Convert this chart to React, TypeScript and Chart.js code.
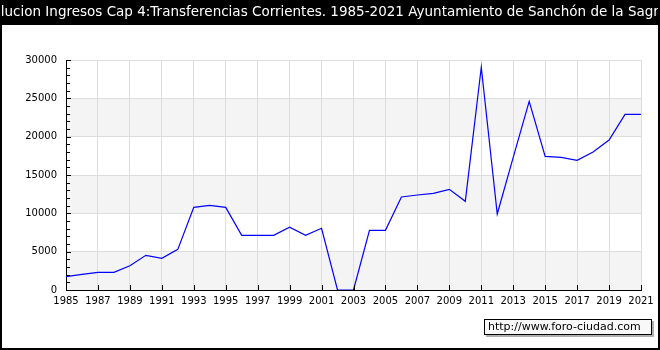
import React, { useEffect, useRef } from "react";
import { Chart, registerables } from "chart.js";

Chart.register(...registerables);

const TITLE =
  "Evolucion Ingresos Cap 4:Transferencias Corrientes. 1985-2021 Ayuntamiento de Sanchón de la Sagrada";
const WATERMARK = "http://www.foro-ciudad.com";

const years = [
  1985, 1986, 1987, 1988, 1989, 1990, 1991, 1992, 1993, 1994, 1995, 1996, 1997,
  1998, 1999, 2000, 2001, 2002, 2003, 2004, 2005, 2006, 2007, 2008, 2009, 2010,
  2011, 2012, 2013, 2014, 2015, 2016, 2017, 2018, 2019, 2020, 2021,
];
const values = [
  1750, 2050, 2300, 2300, 3170, 4520, 4130, 5300, 10780, 11040, 10780, 7130,
  7130, 7130, 8180, 7130, 8050, 0, 0, 7790, 7790, 12130, 12390, 12610, 13130,
  11570, 29050, 9910, 17300, 24610, 17430, 17300, 16910, 18000, 19560, 22910,
  22910,
];
const yTickStep = 5000;
const yMinorStep = 1000;
const yMax = 30000;
const xStep = 2;

const decorPlugin = {
  id: "decor",
  beforeDraw(chart: any) {
    const { ctx, chartArea } = chart;
    const ys = chart.scales.y;
    ctx.save();
    ctx.fillStyle = "#ffffff";
    ctx.fillRect(0, 0, chart.width, chart.height);
    for (let v = 0; v < yMax; v += yTickStep) {
      if ((v / yTickStep) % 2 === 0) {
        const yTop = ys.getPixelForValue(v + yTickStep);
        const yBot = ys.getPixelForValue(v);
        ctx.fillStyle = "#f4f4f4";
        ctx.fillRect(chartArea.left, yTop, chartArea.right - chartArea.left, yBot - yTop);
      }
    }
    ctx.restore();
  },
  afterDraw(chart: any) {
    const { ctx, chartArea } = chart;
    const ys = chart.scales.y;
    const xs = chart.scales.x;
    ctx.save();
    ctx.strokeStyle = "#000000";
    ctx.lineWidth = 1;
    ctx.beginPath();
    for (let v = 0; v <= yMax; v += yMinorStep) {
      const y = Math.round(ys.getPixelForValue(v)) + 0.5;
      const len = v % yTickStep === 0 ? 5 : 4;
      ctx.moveTo(chartArea.left, y);
      ctx.lineTo(chartArea.left + len, y);
    }
    for (let yr = years[0]; yr <= years[years.length - 1]; yr += xStep) {
      const x = Math.round(xs.getPixelForValue(yr)) + 0.5;
      ctx.moveTo(x, chartArea.bottom);
      ctx.lineTo(x, chartArea.bottom - 5);
    }
    ctx.stroke();
    // title bar
    ctx.fillStyle = "#000000";
    ctx.fillRect(0, 0, chart.width, 25);
    ctx.fillStyle = "#ffffff";
    ctx.font = "13.5px 'DejaVu Sans'";
    ctx.textAlign = "center";
    ctx.textBaseline = "middle";
    ctx.fillText(TITLE, chart.width / 2, 12.5);
    // frame
    ctx.fillStyle = "#000000";
    ctx.fillRect(0, 0, 2, chart.height);
    ctx.fillRect(chart.width - 2, 0, 2, chart.height);
    ctx.fillRect(0, chart.height - 2, chart.width, 2);
    // watermark
    const bx = 484, by = 319, bw = 168, bh = 16;
    ctx.fillStyle = "#b0b0b0";
    ctx.fillRect(bx + 2, by + 2, bw, bh);
    ctx.fillStyle = "#f8f8f8";
    ctx.fillRect(bx, by, bw, bh);
    ctx.strokeStyle = "#000000";
    ctx.strokeRect(bx + 0.5, by + 0.5, bw - 1, bh - 1);
    ctx.fillStyle = "#000000";
    ctx.font = "11px 'DejaVu Sans'";
    ctx.textAlign = "left";
    ctx.fillText(WATERMARK, bx + 4, by + bh / 2 + 0.5);
    ctx.restore();
  },
};

export default function App() {
  const ref = useRef<HTMLCanvasElement>(null);
  useEffect(() => {
    document.body.style.margin = "0";
    const chart = new Chart(ref.current as HTMLCanvasElement, {
      type: "line",
      data: {
        datasets: [
          {
            data: years.map((y, i) => ({ x: y, y: values[i] })),
            borderColor: "#0000ff",
            borderWidth: 1.2,
            pointRadius: 0,
            tension: 0,
            fill: false,
          },
        ],
      },
      options: {
        responsive: false,
        animation: false,
        layout: { padding: { left: 0, right: 19, top: 60, bottom: 0 } },
        plugins: { legend: { display: false }, tooltip: { enabled: false }, title: { display: false } },
        scales: {
          x: {
            type: "linear",
            min: years[0],
            max: years[years.length - 1],
            afterFit: (s: any) => {
              s.height = 60;
            },
            ticks: {
              stepSize: xStep,
              autoSkip: false,
              maxRotation: 0,
              minRotation: 0,
              padding: 5,
              color: "#000000",
              font: { family: "DejaVu Sans", size: 10 },
              callback: (v: any) => String(v),
            },
            grid: { color: "#dddddd", drawTicks: false, lineWidth: 1 },
            border: { color: "#000000", width: 1 },
          },
          y: {
            min: 0,
            max: yMax,
            afterFit: (s: any) => {
              s.width = 66;
            },
            ticks: {
              stepSize: yTickStep,
              padding: 9,
              color: "#000000",
              font: { family: "DejaVu Sans", size: 10 },
              callback: (v: any) => String(v),
            },
            grid: { color: "#dddddd", drawTicks: false, lineWidth: 1 },
            border: { color: "#000000", width: 1 },
          },
        },
      },
      plugins: [decorPlugin],
    });
    return () => chart.destroy();
  }, []);
  return (
    <div style={{ position: "absolute", left: 0, top: 0, width: 660, height: 350 }}>
      <canvas ref={ref} width={660} height={350} />
    </div>
  );
}
